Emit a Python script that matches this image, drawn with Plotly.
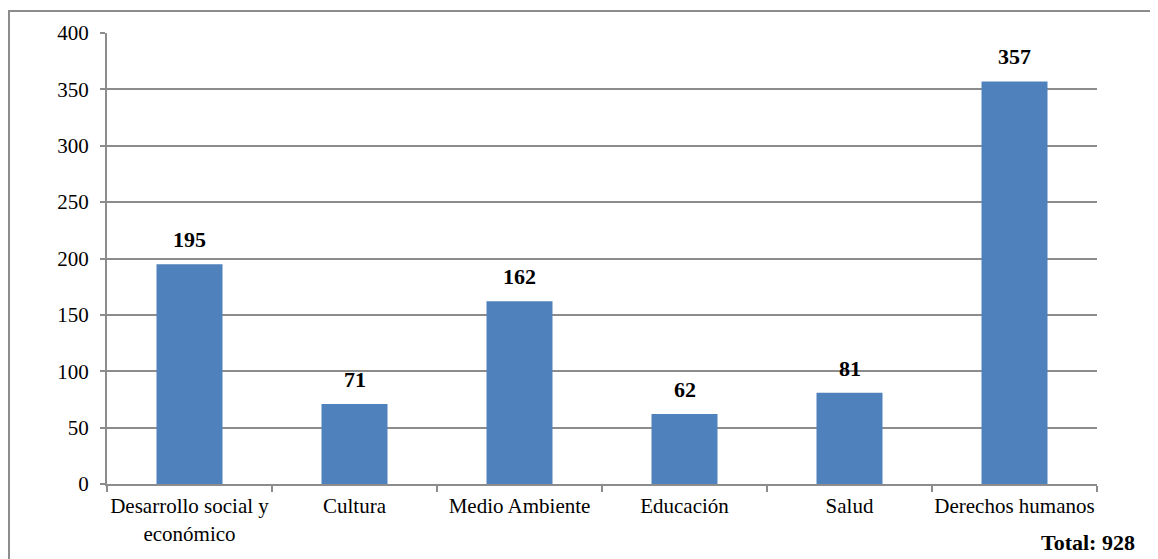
import plotly.graph_objects as go

categories = ["Desarrollo social y<br>económico", "Cultura", "Medio Ambiente", "Educación", "Salud", "Derechos humanos"]
values = [195, 71, 162, 62, 81, 357]
total_label = "Total: 928"

grid = "#8c8c8c"
font = "Liberation Serif"

fig = go.Figure(go.Bar(
    x=categories, y=values,
    marker=dict(color="#4F81BD", line=dict(width=0)),
    width=0.4,
    hoverinfo="x+y",
))

for c, v in zip(categories, values):
    fig.add_annotation(x=c, y=v, text="<b>%d</b>" % v, showarrow=False,
                       xanchor="center", yanchor="bottom", yshift=10,
                       font=dict(family=font, size=22, color="black"))

fig.update_layout(
    width=1150, height=551,
    margin=dict(l=99, r=61, t=25, b=75),
    paper_bgcolor="white", plot_bgcolor="white",
    showlegend=False,
    font=dict(family=font, size=21, color="black"),
    xaxis=dict(
        type="category", tickson="boundaries", ticks="outside", ticklen=6,
        tickcolor=grid, tickwidth=2, showgrid=False, tickangle=0,
        automargin=False, ticklabelstandoff=2,
        showline=True, linecolor=grid, linewidth=2,
        tickfont=dict(family=font, size=21, color="black"),
    ),
    yaxis=dict(
        range=[0, 400], tickvals=[0, 50, 100, 150, 200, 250, 300, 350, 400],
        ticks="outside", ticklen=5, tickcolor=grid, tickwidth=2,
        ticklabelstandoff=7, automargin=False,
        showgrid=True, gridcolor=grid, gridwidth=2,
        showline=True, linecolor=grid, linewidth=2,
        zeroline=False,
        tickfont=dict(family=font, size=21, color="black"),
    ),
)

fig.add_shape(type="rect", xref="paper", yref="paper",
              x0=-98/990, x1=1.08, y0=-0.4, y1=1 + 22/451,
              line=dict(color=grid, width=2), fillcolor="rgba(0,0,0,0)", layer="below")

fig.add_annotation(text="<b>" + total_label + "</b>", xref="paper", yref="paper",
                   x=(1137 - 107) / 990, y=-(542 - 484) / 451, xanchor="right", yanchor="middle",
                   showarrow=False, font=dict(family=font, size=22, color="black"))

fig.write_html("out.html")
